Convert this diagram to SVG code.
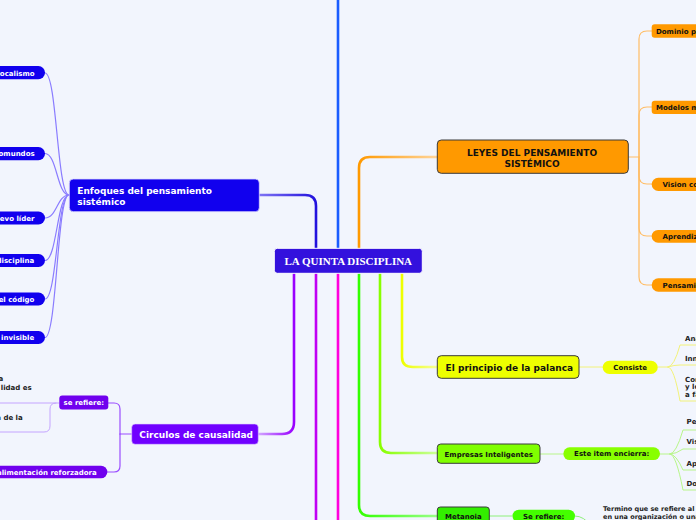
<svg xmlns="http://www.w3.org/2000/svg" width="696" height="520" viewBox="0 0 696 520">
<style>
.t{font-family:"DejaVu Sans",Verdana,sans-serif;font-weight:bold}
.s7{font-size:7px}
.s65{font-size:6.5px}
.s9{font-size:9px}
.w{fill:#ffffff}
.k{fill:#111111}
.d{fill:#222222}
.ln{fill:none;stroke-linecap:round}
.main{stroke-width:2.6}
.sub{stroke-width:1.2}
.rn{stroke:#3a3a3a;stroke-width:1}
</style>
<defs>
<linearGradient id="gEnf" gradientUnits="userSpaceOnUse" x1="316" y1="0" x2="259" y2="0"><stop offset="0" stop-color="#2211dd"/><stop offset="1" stop-color="#7f74f4"/></linearGradient>
<linearGradient id="gCir" gradientUnits="userSpaceOnUse" x1="294" y1="0" x2="258" y2="0"><stop offset="0" stop-color="#9a00ff"/><stop offset="1" stop-color="#d2a8ff"/></linearGradient>
<linearGradient id="gOr" gradientUnits="userSpaceOnUse" x1="359" y1="0" x2="437" y2="0"><stop offset="0" stop-color="#ff9900"/><stop offset="1" stop-color="#ffd49a"/></linearGradient>
<linearGradient id="gYe" gradientUnits="userSpaceOnUse" x1="402" y1="0" x2="437" y2="0"><stop offset="0" stop-color="#eeff00"/><stop offset="1" stop-color="#f6ff99"/></linearGradient>
<linearGradient id="gLi" gradientUnits="userSpaceOnUse" x1="380" y1="0" x2="437" y2="0"><stop offset="0" stop-color="#88ff00"/><stop offset="1" stop-color="#ccff99"/></linearGradient>
<linearGradient id="gGr" gradientUnits="userSpaceOnUse" x1="359" y1="0" x2="437" y2="0"><stop offset="0" stop-color="#33ff00"/><stop offset="1" stop-color="#99ff88"/></linearGradient>
</defs>
<rect width="696" height="520" fill="#f2f5fd"/>

<g id="connectors">
<path class="ln main" d="M338,248 V-2" stroke="#1a5cff" stroke-width="3"/>
<path class="ln main" d="M316,248 V206 Q316,195 305,195 H259" stroke="url(#gEnf)"/>
<path class="ln main" d="M359,248 V168 Q359,157 370,157 H437" stroke="url(#gOr)"/>
<path class="ln main" d="M294,273 V422 Q294,434 282,434 H258" stroke="url(#gCir)"/>
<path class="ln main" d="M316,273 V522" stroke="#c000f4"/>
<path class="ln main" d="M338,273 V522" stroke="#ff00dd"/>
<path class="ln main" d="M359,273 V505 Q359,516 370,516 H437" stroke="url(#gGr)"/>
<path class="ln main" d="M380,273 V442 Q380,453 391,453 H437" stroke="url(#gLi)"/>
<path class="ln main" d="M402,273 V357 Q402,367 413,367 H437" stroke="url(#gYe)"/>

<g stroke="#8a7cff" class="ln sub">
<path d="M69,195 C57,195 57,73 45,73"/>
<path d="M69,195 C57,195 57,153.5 45,153.5"/>
<path d="M69,195 C57,195 57,218 45,218"/>
<path d="M69,195 C57,195 57,260.5 45,260.5"/>
<path d="M69,195 C57,195 57,299 45,299"/>
<path d="M69,195 C57,195 57,337.5 45,337.5"/>
</g>
<g stroke="#9a4dff" class="ln sub">
<path d="M132,434 H120"/>
<path d="M120,434 V409 Q120,403 114,403 H108"/>
<path d="M120,434 V466 Q120,472 114,472 H107"/>
</g>
<g stroke="#c4a4ff" class="ln" stroke-width="1">
<path d="M59,403 H-2"/>
<path d="M56,403 Q50,403 50,409 V426 Q50,432 44,432 H-2"/>
</g>
<g stroke="#ffbd66" class="ln sub">
<path d="M628,157 H639"/>
<path d="M639,157 V39 Q639,31 647,31 H652"/>
<path d="M639,157 V115 Q639,107 647,107 H652"/>
<path d="M639,157 V176 Q639,184 647,184 H652"/>
<path d="M639,157 V228 Q639,236 647,236 H652"/>
<path d="M639,157 V277 Q639,285 647,285 H652"/>
</g>
<g stroke="#f2f27a" class="ln" stroke-width="1">
<path d="M579,367 H603"/>
<path d="M658,367 H668"/>
<path d="M668,367 Q674,367 680,345 H698"/>
<path d="M668,367 Q674,365 680,365 H698"/>
<path d="M668,367 Q674,367 680,401 H698"/>
</g>
<g stroke="#b8f58a" class="ln" stroke-width="1">
<path d="M540,454 H563"/>
<path d="M660,454 H670"/>
<path d="M670,454 Q676,454 683,430 H698"/>
<path d="M670,454 Q676,454 683,449 H698"/>
<path d="M670,454 Q676,454 683,470 H698"/>
<path d="M670,454 Q676,454 683,490 H698"/>
</g>
<g stroke="#8ef07a" class="ln" stroke-width="1">
<path d="M489,516 H512"/>
<path d="M575,516 Q584,516 591,526"/>
</g>
</g>

<g id="center">
<rect x="274.3" y="248.3" width="148" height="25" rx="3" fill="#3311dd" stroke="#ffffff" stroke-width="1"/>
<text x="348.3" y="265.4" text-anchor="middle" font-family="'Liberation Serif','Times New Roman',serif" font-weight="bold" font-size="11" fill="#ffffff">LA QUINTA DISCIPLINA</text>
</g>

<g id="enfoques">
<rect x="69.3" y="179" width="190" height="32.7" rx="4" fill="#1100ee" stroke="#dcd8ff" stroke-width="0.8"/>
<text class="t s9 w" x="77.3" y="193.5">Enfoques del pensamiento</text>
<text class="t s9 w" x="77.3" y="204.5">sistémico</text>
</g>
<g id="enf1"><rect x="-20" y="66" width="65" height="13.3" rx="6.6" fill="#1100ee"/><text class="t s7 w" x="34.6" y="75.6" text-anchor="end">ocalismo</text></g>
<g id="enf2"><rect x="-20" y="147" width="65" height="13.3" rx="6.6" fill="#1100ee"/><text class="t s7 w" x="34.6" y="156.1" text-anchor="end">omundos</text></g>
<g id="enf3"><rect x="-20" y="211.5" width="65" height="13" rx="6.5" fill="#1100ee"/><text class="t s7 w" x="34.4" y="220.6" text-anchor="end">evo líder</text></g>
<g id="enf4"><rect x="-20" y="254" width="65" height="13" rx="6.5" fill="#1100ee"/><text class="t s7 w" x="34.2" y="263.1" text-anchor="end">disciplina</text></g>
<g id="enf5"><rect x="-20" y="292.5" width="65" height="13" rx="6.5" fill="#1100ee"/><text class="t s7 w" x="34.4" y="301.6" text-anchor="end">el código</text></g>
<g id="enf6"><rect x="-20" y="331" width="65" height="13" rx="6.5" fill="#1100ee"/><text class="t s7 w" x="34.2" y="340.1" text-anchor="end">invisible</text></g>

<g id="circulos">
<rect x="131.7" y="424" width="126.6" height="20.3" rx="3.5" fill="#7000ff" stroke="#e0d0ff" stroke-width="0.6"/>
<text class="t s9 w" x="139.3" y="438">Circulos de causalidad</text>
</g>
<g id="serefiere1">
<rect x="59.3" y="395.5" width="49" height="14" rx="3" fill="#7000ee"/>
<text class="t s7 w" x="83.8" y="405" text-anchor="middle">se refiere:</text>
</g>
<g id="retro">
<rect x="-20" y="465.7" width="127.3" height="12.6" rx="6.3" fill="#7000ee"/>
<text class="t s7 w" x="96.7" y="474.6" text-anchor="end">alimentación reforzadora</text>
</g>
<g id="sr1"><text class="t s7 d" x="3.2" y="380.8" text-anchor="end">a</text><text class="t s7 d" x="31.7" y="389.8" text-anchor="end">lidad es</text></g>
<g id="sr2"><text class="t s7 d" x="22.7" y="419.8" text-anchor="end">a de la</text></g>

<g id="leyes">
<rect x="437.3" y="140" width="191" height="33.3" rx="4" fill="#ff9900" class="rn"/>
<text class="t s9 k" x="532" y="155.6" text-anchor="middle">LEYES DEL PENSAMIENTO</text>
<text class="t s9 k" x="532" y="166.6" text-anchor="middle">SISTÉMICO</text>
</g>
<g id="ley1"><rect x="651.7" y="24.3" width="70" height="13.4" rx="3" fill="#ff9900"/><text class="t s7 k" x="656" y="33.6">Dominio p</text></g>
<g id="ley2"><rect x="651.7" y="100.7" width="70" height="13.3" rx="3" fill="#ff9900"/><text class="t s7 k" x="656" y="110">Modelos m</text></g>
<g id="ley3"><rect x="651.7" y="177.7" width="70" height="13.3" rx="6.6" fill="#ff9900"/><text class="t s7 k" x="662.5" y="187">Vision co</text></g>
<g id="ley4"><rect x="651.7" y="230" width="70" height="12.7" rx="6.3" fill="#ff9900"/><text class="t s7 k" x="662.5" y="239">Aprendiz</text></g>
<g id="ley5"><rect x="651.7" y="278.3" width="70" height="13.4" rx="6.6" fill="#ff9900"/><text class="t s7 k" x="662.5" y="287.6">Pensami</text></g>

<g id="palanca">
<rect x="437.3" y="355.7" width="141.7" height="22.6" rx="4" fill="#eeff00" class="rn"/>
<text class="t s9 k" x="445.6" y="371">El principio de la palanca</text>
</g>
<g id="consiste">
<rect x="602.7" y="360.7" width="55" height="13.3" rx="6.6" fill="#eeff00"/>
<text class="t s7 k" x="630.2" y="370" text-anchor="middle">Consiste</text>
</g>
<g id="c1"><text class="t s7 d" x="685" y="340.5">Ana</text></g>
<g id="c2"><text class="t s7 d" x="685" y="360.8">Inn</text></g>
<g id="c3"><text class="t s7 d" x="685" y="381.5">Con</text><text class="t s7 d" x="685" y="389.3">y lo</text><text class="t s7 d" x="685" y="397">a fa</text></g>

<g id="empresas">
<rect x="437.3" y="444" width="102.7" height="19.3" rx="3.5" fill="#80ff00" class="rn"/>
<text class="t s7 k" x="488.7" y="456.8" text-anchor="middle">Empresas Inteligentes</text>
</g>
<g id="esteitem">
<rect x="563.3" y="447.3" width="96.7" height="12.8" rx="6.4" fill="#88ff00"/>
<text class="t s7 k" x="611.7" y="456.3" text-anchor="middle">Este item encierra:</text>
</g>
<g id="e1"><text class="t s7 d" x="686.5" y="424.3">Pe</text></g>
<g id="e2"><text class="t s7 d" x="686.5" y="443.8">Vis</text></g>
<g id="e3"><text class="t s7 d" x="686.5" y="465.8">Ap</text></g>
<g id="e4"><text class="t s7 d" x="686.5" y="485.8">Do</text></g>

<g id="metanoia">
<rect x="437.3" y="507" width="52" height="20" rx="3" fill="#33ee00" class="rn"/>
<text class="t s7 k" x="463.3" y="519" text-anchor="middle">Metanoia</text>
</g>
<g id="serefiere2">
<rect x="512.5" y="509.7" width="62.5" height="12.8" rx="6.4" fill="#44ff00"/>
<text class="t s7 k" x="543.7" y="519" text-anchor="middle">Se refiere:</text>
</g>
<g id="termino">
<text class="t s65 d" x="603" y="510.5">Termino que se refiere al ca</text>
<text class="t s65 d" x="603" y="518.5">en una organización o una p</text>
</g>
</svg>
